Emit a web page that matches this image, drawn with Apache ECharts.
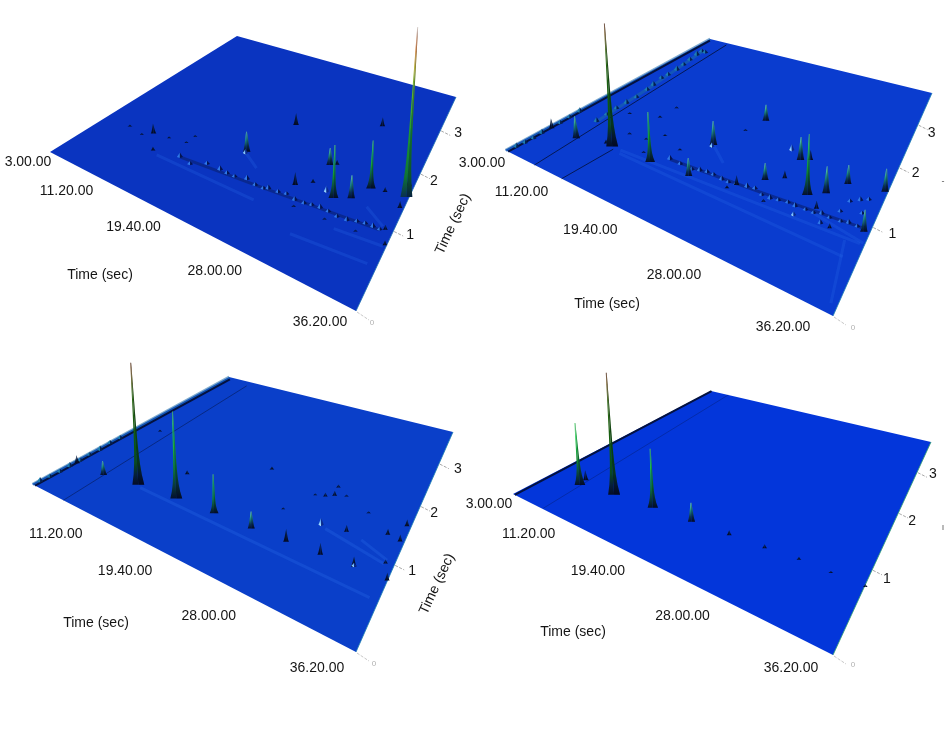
<!DOCTYPE html>
<html>
<head>
<meta charset="utf-8">
<style>
  html, body { margin: 0; padding: 0; background: #fff; }
  #chart { width: 945px; height: 730px; }
</style>
</head>
<body>
<div id="chart"></div>
<script src="https://cdn.jsdelivr.net/npm/echarts@6/dist/echarts.min.js"></script>
<script>
// first dimension retention time in minutes, second dimension in seconds
const t1Range = [3, 36.333]
const t2Range = [0, 4]
const t1Ticks = [3, 11.333, 19.667, 28, 36.333]
const t1TickLabels = ['3.00.00', '11.20.00', '19.40.00', '28.00.00', '36.20.00']
const t2Ticks = [1, 2, 3]

// peaks: [t1, t2, intensity]
const peaksA = [[36.1,1.55,170],[32.9,1.47,48],[30.4,1.11,53],[31.8,1.21,23],[26.6,1.07,13],[20.0,1.27,20],[22.1,2.09,12],[30.5,2.69,9],[9.7,0.94,10],[11.7,0.68,4],[28.2,1.59,17],[28.8,1.64,5],[27.9,1.21,4],[35.9,1.73,12],[34.2,1.50,5],[36.0,1.35,7],[35.7,0.98,5],[36.2,0.79,5],[33.6,0.80,2],[30.8,0.78,2],[27.8,0.77,2],[6.6,0.89,2],[8.8,0.84,2],[11.7,0.97,2],[13.8,1.01,2],[13.9,1.17,2]]
const peaksB = [[11.3,0.67,123],[16.1,0.68,50],[7.2,0.57,22],[3.6,0.56,10],[20.4,0.71,18],[19.6,1.30,24],[21.9,2.08,16],[28.0,1.57,23],[30.5,1.09,61],[28.8,1.63,10],[31.8,1.21,27],[33.0,1.46,19],[36.1,1.54,23],[26.5,1.07,17],[27.9,1.20,8],[24.7,0.85,10],[35.9,0.91,22],[31.8,0.96,8],[33.5,0.79,5],[27.7,0.78,3],[24.2,0.76,3],[10.4,0.68,4],[12.0,1.73,2],[11.7,1.44,2],[8.4,1.30,2],[11.2,0.96,2],[21.0,1.75,2],[17.3,1.02,2],[14.6,0.77,2],[13.3,0.98,2],[14.5,1.15,2]]
const peaksC = [[11.9,0.65,122],[16.5,0.69,87],[20.8,0.71,39],[24.7,0.72,17],[28.0,0.74,13],[31.0,0.76,12],[33.7,0.79,10],[36.3,0.79,8],[7.7,0.57,14],[3.6,0.57,8],[14.8,1.12,4],[21.7,1.76,3],[6.2,1.74,2],[27.4,1.57,2],[28.3,1.61,4],[29.0,1.68,5],[31.8,1.19,7],[32.6,1.59,2],[36.0,1.60,7],[34.9,1.37,6],[36.0,1.34,7],[25.8,1.16,2],[35.7,0.98,4],[30.0,1.74,2],[28.8,1.85,3]]
const peaksD = [[11.6,0.61,122],[7.3,0.54,62],[16.3,0.66,59],[20.7,0.69,19],[24.6,0.72,5],[28.0,0.74,4],[31.0,0.77,3],[33.7,0.77,2],[36.4,0.77,3],[7.1,0.65,10]]

// pale highlights on the surface: [t1, t2, intensity]
const glintsA = [[29.5,1.16,6],[20.0,1.24,4]]
const glintsB = [[30.5,0.77,4],[19.6,1.27,4],[26.6,1.69,6]]
const glintsC = [[29.6,1.15,7],[33.7,0.80,3]]
const glintsD = []

// low bumps along the homologous ridge: [t1, t2]
const ridgeA = [[14.7,0.76],[16.3,0.72],[17.7,0.83],[19.3,0.83],[20.2,0.82],[21.1,0.82],[22.3,0.86],[23.4,0.83],[24.3,0.83],[24.7,0.86],[25.7,0.87],[26.5,0.89],[27.5,0.86],[28.4,0.87],[29.1,0.89],[29.9,0.90],[30.7,0.90],[31.6,0.88],[32.5,0.89],[33.3,0.93],[34.0,0.95],[34.7,0.95],[35.3,0.95]]
const ridgeB = [[17.4,0.83],[18.7,0.82],[20.1,0.81],[20.8,0.84],[21.5,0.86],[22.2,0.86],[23.2,0.84],[23.9,0.84],[24.6,0.86],[25.6,0.88],[26.3,0.90],[27.2,0.85],[28.0,0.85],[28.7,0.87],[29.5,0.89],[30.2,0.88],[31.1,0.89],[31.8,0.89],[32.4,0.92],[33.1,0.91],[34.0,0.92],[34.6,0.94],[35.3,0.94],[35.8,0.95],[32.7,0.80],[33.6,1.04],[33.9,1.22],[34.6,1.29],[35.2,1.34],[35.2,1.12]]
const ridgeC = []
const ridgeD = []
const ridgeBandsA = [[14.7,0.76,24.3,0.84],[24.3,0.84,35.3,0.95]]
const ridgeBandsB = [[17.4,0.83,26.3,0.88],[26.3,0.88,35.8,0.95]]
const ridgeBandsC = []
const ridgeBandsD = []

// column bleed near the start of the run: [t1, t2]
const bleedA = []
const bleedB = [[6.5,0.95],[6.4,1.13],[6.3,1.31],[6.4,1.48],[6.4,1.67],[6.2,1.91],[6.0,2.07],[5.6,2.30],[5.7,2.44],[5.7,2.65],[5.5,2.85],[5.2,3.06],[5.0,3.28],[4.9,3.44],[5.5,3.44],[3.5,0.10],[3.6,0.20],[3.6,0.31],[3.5,0.43],[3.5,0.69],[3.4,0.84],[3.4,1.00]]
const bleedC = [[3.3,0.08],[3.4,0.20],[3.5,0.33],[3.5,0.47],[3.5,0.63],[3.4,0.78],[3.5,0.94],[3.3,1.13],[3.4,1.30]]
const bleedD = []
const bleedBandsA = []
const bleedBandsB = [[3.1,0.00,3.05,4.00],[6.5,0.95,6.0,2.07],[6.0,2.07,4.9,3.44]]
const bleedBandsC = [[3.1,0.00,3.05,4.00]]
const bleedBandsD = []

// dark solvent bands and pale tails: [t1 from, t2 from, t1 to, t2 to]
const darkBandsA = []
const darkBandsB = [[3.5,0.00,3.4,3.93],[7.4,0.00,6.5,3.92],[11.1,0.00,11.7,0.64]]
const darkBandsC = [[3.5,0.00,3.7,3.91],[7.8,0.00,7.3,3.82]]
const darkBandsD = [[3.3,0.00,3.1,4.00],[7.6,0.01,6.3,4.00]]
const paleTailsA = [[12.5,0.64,24.3,0.63],[31.9,0.72,36.1,0.77],[33.4,1.18,35.4,1.01],[20.1,1.24,22.2,1.08],[29.0,0.43,35.6,0.50]]
const paleTailsB = [[12.4,0.67,36.0,0.76],[12.7,0.62,35.3,0.55],[19.6,1.30,22.0,1.08],[34.9,0.73,35.9,0.09],[31.8,0.89,36.2,0.78]]
const paleTailsC = [[12.4,0.62,35.7,0.53],[30.1,1.12,35.6,0.97],[33.2,1.16,35.7,1.03]]
const paleTailsD = []

const FONT = '"Liberation Sans", Arial, sans-serif'
const TEXT_COLOR = '#151515'

const panels = [
  {
    corners: [[50,152],[356,311],[456,97],[237,36]], surface: '#0a34c0', edge: '#1d6fb0', bandFade: 1, tailFade: 0.22,
    peaks: peaksA, glints: glintsA, ridge: ridgeA, ridgeBands: ridgeBandsA, bleed: bleedA, bleedBands: bleedBandsA, darkBands: darkBandsA, paleTails: paleTailsA,
    t1Offsets: [[-22,10],[-41,9],[-42,10],[-42,12],[-36,11]],
    t2Offsets: [[17,4],[14,7],[18,2]], zeroOffset: [16,12],
    t1Title: [100,275], t2Title: [453,224]
  },
  {
    corners: [[505,150],[833,316],[932,93],[710,39]], surface: '#0a3ccf', edge: '#1d80b0', bandFade: 0.85, tailFade: 0.22,
    peaks: peaksB, glints: glintsB, ridge: ridgeB, ridgeBands: ridgeBandsB, bleed: bleedB, bleedBands: bleedBandsB, darkBands: darkBandsB, paleTails: paleTailsB,
    t1Offsets: [[-23,13],[-42,13],[-44,15],[-48,15],[-50,11]],
    t2Offsets: [[20,7],[17,5],[14,8]], zeroOffset: [20,12], fragment: ['-', 943, 182],
    t1Title: [607,304]
  },
  {
    corners: [[32,484],[356,652],[453,432],[229,377]], surface: '#0a3fc9', edge: '#1d80b0', bandFade: 0.5, tailFade: 0.25,
    peaks: peaksC, glints: glintsC, ridge: ridgeC, ridgeBands: ridgeBandsC, bleed: bleedC, bleedBands: bleedBandsC, darkBands: darkBandsC, paleTails: paleTailsC,
    t1Offsets: [null,[-33,21],[-33,22],[-36,22],[-39,16]],
    t2Offsets: [[18,6],[14,6],[19,5]], zeroOffset: [18,12],
    t1Title: [96,623], t2Title: [437,584]
  },
  {
    corners: [[513,494],[833,655],[931,442],[711,391]], surface: '#0336da', edge: '#2fa070', bandFade: 0.3, tailFade: 0.2,
    peaks: peaksD, glints: glintsD, ridge: ridgeD, ridgeBands: ridgeBandsD, bleed: bleedD, bleedBands: bleedBandsD, darkBands: darkBandsD, paleTails: paleTailsD,
    t1Offsets: [[-24,10],[-40,12],[-39,15],[-40,17],[-42,13]],
    t2Offsets: [[15,9],[14,8],[16,1]], zeroOffset: [20,10], fragment: ['ı', 943, 528],
    t1Title: [573,632]
  }
]

// unit square to the panel's four corners
const makeHomography = (q) => {
  const [p0, p1, p2, p3] = q
  const sx = p0[0] - p1[0] + p2[0] - p3[0]
  const sy = p0[1] - p1[1] + p2[1] - p3[1]
  const dx1 = p1[0] - p2[0]
  const dx2 = p3[0] - p2[0]
  const dy1 = p1[1] - p2[1]
  const dy2 = p3[1] - p2[1]
  const den = dx1 * dy2 - dx2 * dy1
  const g = (sx * dy2 - dx2 * sy) / den
  const h = (dx1 * sy - sx * dy1) / den
  return (u, v) => {
    const w = g * u + h * v + 1
    return [
      ((p1[0] - p0[0] + g * p1[0]) * u + (p3[0] - p0[0] + h * p3[0]) * v + p0[0]) / w,
      ((p1[1] - p0[1] + g * p1[1]) * u + (p3[1] - p0[1] + h * p3[1]) * v + p0[1]) / w
    ]
  }
}

// data point -> axis pixel (library scale) -> perspective floor
const projector = (panel, params, api) => {
  const cs = params.coordSys
  return (t1, t2) => {
    const p = api.coord([t1, t2])
    return panel.warp((p[0] - cs.x) / cs.width, (cs.y + cs.height - p[1]) / cs.height)
  }
}

const peakStops = (h) => {
  if (h >= 150) return [[0,'#f4ece6'],[0.04,'#c9a08a'],[0.12,'#cf6f2a'],[0.24,'#b4ae2e'],[0.36,'#62b52e'],[0.62,'#1c9a30'],[0.88,'#0f7434'],[1,'#0a3050']]
  if (h >= 100) return [[0,'#5c3018'],[0.08,'#6a4a12'],[0.25,'#2f6a14'],[0.65,'#0c5a10'],[0.82,'#0a4a20'],[0.92,'#06203a'],[1,'#040c28']]
  if (h >= 35) return [[0,'#5fe07a'],[0.25,'#22d050'],[0.6,'#0f8a30'],[0.85,'#0a3a3a'],[1,'#041030']]
  if (h >= 14) return [[0,'#6fd8c0'],[0.4,'#1f8f80'],[0.75,'#0a3050'],[1,'#040e30']]
  return [[0,'#062048'],[1,'#030a24']]
}

const gradient = (stops) => ({
  type: 'linear', x: 0, y: 0, x2: 0, y2: 1, global: false,
  colorStops: stops.map(([offset, color]) => ({ offset, color }))
})

const LEAN = 0.0005
const SPIKE_STEPS = 12

const spikeSides = (base, h, halfWidth, midX) => {
  const flare = h >= 30 ? 0.68 : 0.2
  const tipWidth = h >= 14 ? 0.45 : 0
  const left = []
  const right = []
  for (let i = 0; i <= SPIKE_STEPS; i++) {
    const f = i / SPIKE_STEPS
    const c = 1 - f
    const w = halfWidth * (flare * Math.pow(c, 7) + (1 - flare) * c) + tipWidth
    const x = base[0] + (base[0] - midX) * LEAN * h * f
    const y = base[1] - h * f
    left.push([x - w, y])
    right.push([x + w, y])
  }
  return { left, right, axis: right.map((pt, i) => [(pt[0] + left[i][0]) / 2, pt[1]]) }
}

const surfaceSeries = (panel, i) => ({
  type: 'custom', xAxisIndex: i, yAxisIndex: i, z: 1, silent: true,
  encode: { x: 0, y: 1 },
  data: [[t1Range[0], t2Range[0]]],
  renderItem: (params, api) => {
    const at = projector(panel, params, api)
    const pts = [
      at(t1Range[0], t2Range[0]), at(t1Range[1], t2Range[0]),
      at(t1Range[1], t2Range[1]), at(t1Range[0], t2Range[1])
    ]
    return {
      type: 'group',
      children: [
        { type: 'polygon', shape: { points: pts }, style: { fill: panel.surface } },
        { type: 'polyline', shape: { points: [pts[1], pts[2]] }, style: { stroke: panel.edge, lineWidth: 1, fill: null, opacity: 0.8 } }
      ]
    }
  }
})

const bandSeries = (panel, i, data, color, width, opacity, firstWidth) => ({
  type: 'custom', xAxisIndex: i, yAxisIndex: i, z: 2, silent: true,
  encode: { x: 0, y: 1 },
  data,
  renderItem: (params, api) => {
    const at = projector(panel, params, api)
    const first = firstWidth && params.dataIndex === 0
    return {
      type: 'polyline',
      shape: { points: [at(api.value(0), api.value(1)), at(api.value(2), api.value(3))] },
      style: { stroke: color, lineWidth: first ? firstWidth : width, opacity: first ? 1 : opacity, fill: null }
    }
  }
})

const bumpSeries = (panel, i, data, lit, shade) => ({
  type: 'custom', xAxisIndex: i, yAxisIndex: i, z: 3, silent: true,
  encode: { x: 0, y: 1 },
  data,
  renderItem: (params, api) => {
    const b = projector(panel, params, api)(api.value(0), api.value(1))
    const h = params.dataIndex % 3 === 0 ? 4.5 : 3.2
    const tip = [b[0], b[1] - h]
    return {
      type: 'group',
      children: [
        { type: 'polygon', shape: { points: [[b[0] - 3, b[1]], tip, [b[0], b[1] + 1]] }, style: { fill: lit } },
        { type: 'polygon', shape: { points: [[b[0] + 3, b[1]], tip, [b[0], b[1] + 1]] }, style: { fill: shade } }
      ]
    }
  }
})

const peakSeries = (panel, i) => ({
  type: 'custom', xAxisIndex: i, yAxisIndex: i, z: 4, silent: true,
  encode: { x: 0, y: 1 },
  // far peaks first so near ones sit in front
  data: panel.peaks.slice().sort((a, b) => b[1] - a[1]),
  renderItem: (params, api) => {
    const h = api.value(2)
    const base = projector(panel, params, api)(api.value(0), api.value(1))
    const halfWidth = Math.min(5.5, 2.4 + h * 0.04)
    const { left, right, axis } = spikeSides(base, h, halfWidth, panel.midX)
    const fill = gradient(peakStops(h))
    const children = [
      { type: 'polygon', shape: { points: left.concat(axis.slice().reverse()) }, style: { fill } },
      { type: 'polygon', shape: { points: right.concat(axis.slice().reverse()) }, style: { fill } }
    ]
    if (h >= 14) {
      children.push({ type: 'polygon', shape: { points: right.concat(axis.slice().reverse()) }, style: { fill: 'rgba(0,0,20,0.28)' } })
    }
    return { type: 'group', children }
  }
})

const glintSeries = (panel, i) => ({
  type: 'custom', xAxisIndex: i, yAxisIndex: i, z: 5, silent: true,
  encode: { x: 0, y: 1 },
  data: panel.glints,
  renderItem: (params, api) => {
    const h = api.value(2)
    const b = projector(panel, params, api)(api.value(0), api.value(1))
    const tip = [b[0], b[1] - h]
    return {
      type: 'group',
      children: [
        { type: 'polygon', shape: { points: [[b[0] - 2.6, b[1]], tip, [b[0], b[1] + 1.5]] }, style: { fill: gradient([[0,'#3f80ee'],[0.6,'#7cc4fa'],[1,'#c4f0ff']]) } },
        { type: 'polygon', shape: { points: [[b[0] + 2.6, b[1]], tip, [b[0], b[1] + 1.5]] }, style: { fill: '#0b2a8a' } }
      ]
    }
  }
})

const t1LabelSeries = (panel, i) => ({
  type: 'custom', xAxisIndex: i, yAxisIndex: i, z: 6, silent: true,
  encode: { x: 0, y: 1 },
  data: t1Ticks.map((t) => [t, t2Range[0]]),
  renderItem: (params, api) => {
    const offset = panel.t1Offsets[params.dataIndex]
    if (!offset) return null
    const p = projector(panel, params, api)(api.value(0), api.value(1))
    return {
      type: 'text',
      style: {
        x: p[0] + offset[0], y: p[1] + offset[1], text: t1TickLabels[params.dataIndex],
        font: `14px ${FONT}`, fill: TEXT_COLOR, textAlign: 'center', textVerticalAlign: 'middle'
      }
    }
  }
})

const t2TickSeries = (panel, i) => ({
  type: 'custom', xAxisIndex: i, yAxisIndex: i, z: 6, silent: true,
  encode: { x: 0, y: 1 },
  data: t2Ticks.map((t) => [t1Range[1], t]),
  renderItem: (params, api) => {
    const p = projector(panel, params, api)(api.value(0), api.value(1))
    const offset = panel.t2Offsets[params.dataIndex]
    return {
      type: 'group',
      children: [
        { type: 'polyline', shape: { points: [[p[0] + 1, p[1]], [p[0] + 10, p[1] + 4.5]] }, style: { stroke: '#a8a8a8', lineWidth: 1, lineDash: [3, 1.5], fill: null } },
        {
          type: 'text',
          style: {
            x: p[0] + offset[0], y: p[1] + offset[1], text: String(api.value(1)),
            font: `14px ${FONT}`, fill: TEXT_COLOR, textAlign: 'center', textVerticalAlign: 'middle'
          }
        }
      ]
    }
  }
})

const zeroTickSeries = (panel, i) => ({
  type: 'custom', xAxisIndex: i, yAxisIndex: i, z: 6, silent: true,
  encode: { x: 0, y: 1 },
  data: [[t1Range[1], t2Range[0]]],
  renderItem: (params, api) => {
    const p = projector(panel, params, api)(api.value(0), api.value(1))
    return {
      type: 'group',
      children: [
        { type: 'polyline', shape: { points: [[p[0] + 1, p[1] + 1], [p[0] + 13, p[1] + 9]] }, style: { stroke: '#c8c8c8', lineWidth: 1, lineDash: [3, 1.5], fill: null } },
        {
          type: 'text',
          style: {
            x: p[0] + panel.zeroOffset[0], y: p[1] + panel.zeroOffset[1], text: '0',
            font: `8px ${FONT}`, fill: '#b0b0b0', textAlign: 'center', textVerticalAlign: 'middle'
          }
        }
      ]
    }
  }
})

const titleText = (pos, rotated) => ({
  type: 'text', x: pos[0], y: pos[1], rotation: rotated ? (65 * Math.PI) / 180 : 0, silent: true,
  style: { text: 'Time (sec)', font: `14px ${FONT}`, fill: TEXT_COLOR, textAlign: 'center', textVerticalAlign: 'middle' }
})

const buildOption = () => {
  const grid = []
  const xAxis = []
  const yAxis = []
  const series = []
  const graphic = []

  panels.forEach((panel, i) => {
    panel.warp = makeHomography(panel.corners)
    const xs = panel.corners.map((c) => c[0])
    const ys = panel.corners.map((c) => c[1])
    const left = Math.min(...xs)
    const top = Math.min(...ys)
    const width = Math.max(...xs) - left
    const height = Math.max(...ys) - top
    panel.midX = left + width * 0.55

    grid.push({ left, top, width, height, show: false })
    xAxis.push({ type: 'value', gridIndex: i, min: t1Range[0], max: t1Range[1], show: false })
    yAxis.push({ type: 'value', gridIndex: i, min: t2Range[0], max: t2Range[1], show: false })

    series.push(
      surfaceSeries(panel, i),
      bandSeries(panel, i, panel.paleTails, '#2f73ee', 3, panel.tailFade),
      bandSeries(panel, i, panel.bleedBands, '#1c6aa8', 3, 0.55),
      bandSeries(panel, i, panel.darkBands, '#04123f', 1, panel.bandFade, 2),
      bandSeries(panel, i, panel.ridgeBands, '#0a2480', 3, 0.75),
      bumpSeries(panel, i, panel.bleed, '#1f7fb0', '#052050'),
      bumpSeries(panel, i, panel.ridge, '#2f78e8', '#04144f'),
      peakSeries(panel, i),
      glintSeries(panel, i),
      t1LabelSeries(panel, i),
      t2TickSeries(panel, i),
      zeroTickSeries(panel, i)
    )

    graphic.push(titleText(panel.t1Title, false))
    if (panel.t2Title) graphic.push(titleText(panel.t2Title, true))
    if (panel.fragment) {
      graphic.push({
        type: 'text', x: panel.fragment[1], y: panel.fragment[2], silent: true,
        style: { text: panel.fragment[0], font: `9px ${FONT}`, fill: '#555', textAlign: 'center', textVerticalAlign: 'middle' }
      })
    }
  })

  return { animation: false, backgroundColor: '#fff', grid, xAxis, yAxis, series, graphic }
}

const chart = echarts.init(document.getElementById('chart'), null, { renderer: 'canvas' })
chart.setOption(buildOption())
</script>
</body>
</html>
